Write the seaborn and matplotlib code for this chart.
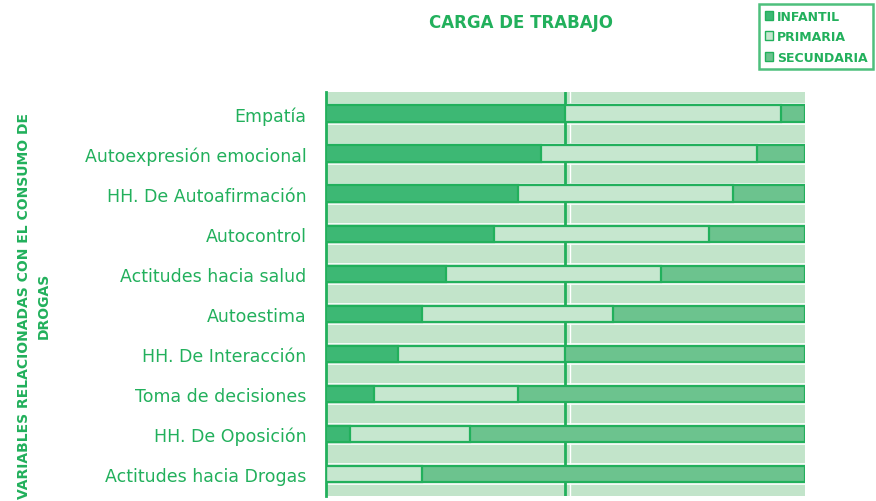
import pandas as pd
import matplotlib.pyplot as plt
import seaborn as sns
from matplotlib.patches import Patch

# Data (percent of each school level)
variables = ['Empatía', 'Autoexpresión emocional', 'HH. De Autoafirmación', 'Autocontrol',
             'Actitudes hacia salud', 'Autoestima', 'HH. De Interacción',
             'Toma de decisiones', 'HH. De Oposición', 'Actitudes hacia Drogas']
infantil = [50, 45, 40, 35, 25, 20, 15, 10, 5, 0]
primaria = [45, 45, 45, 45, 45, 40, 35, 30, 25, 20]
secundaria = [5, 10, 15, 20, 30, 40, 50, 60, 70, 80]

GREEN = '#22b05c'
C_INF = '#3db874'
C_PRI = '#c6e7cf'
C_SEC = '#6cc38e'
BG = '#c2e4ca'

df = pd.DataFrame({'var': variables, 'inf': infantil, 'pri': primaria, 'sec': secundaria})
df['cum_pri'] = df['inf'] + df['pri']
df['cum_sec'] = df['cum_pri'] + df['sec']

sns.set_style('white')
plt.rcParams['font.family'] = ['DejaVu Sans']

fig = plt.figure(figsize=(8.76, 5.02), dpi=100)
ax = fig.add_axes([0.372, 0.01, 0.547, 0.805])
ax.set_facecolor(BG)

w = 0.42
sns.barplot(data=df, y='var', x='cum_sec', orient='h', color=C_SEC, width=w, saturation=1,
            edgecolor=GREEN, linewidth=1.6, ax=ax, zorder=3)
sns.barplot(data=df, y='var', x='cum_pri', orient='h', color=C_PRI, width=w, saturation=1,
            edgecolor=GREEN, linewidth=1.6, ax=ax, zorder=4)
sns.barplot(data=df, y='var', x='inf', orient='h', color=C_INF, width=w, saturation=1,
            edgecolor=GREEN, linewidth=1.6, ax=ax, zorder=5)

# white band edges and mid gridline
for i in range(len(variables)):
    ax.axhline(i - 0.255, color='white', lw=1.2, zorder=1)
    ax.axhline(i + 0.255, color='white', lw=1.2, zorder=1)
ax.axvline(50.9, color='white', lw=1.0, zorder=1)
ax.axvline(50, color=GREEN, lw=2.0, zorder=2)

ax.set_xlim(0, 100)
ax.set_ylim(len(variables) - 0.45, -0.55)
ax.set_xticks([])
ax.set_yticks(range(len(variables)))
ax.set_yticklabels(variables, color=GREEN, fontsize=12.5, fontweight='medium')
ax.set_yticks([i + 0.5 for i in range(-1, len(variables))], minor=True)
ax.tick_params(axis='y', which='major', length=0, pad=14)
ax.tick_params(axis='y', which='minor', length=4, width=1.5, color=GREEN, direction='out')
ax.set_xlabel('')
ax.set_ylabel('')
for s in ['top', 'right', 'bottom']:
    ax.spines[s].set_visible(False)
ax.spines['left'].set_color(GREEN)
ax.spines['left'].set_linewidth(2)

fig.text(0.595, 0.955, 'CARGA DE TRABAJO', color=GREEN, fontsize=12,
         fontweight='bold', ha='center', va='center')
fig.text(0.039, 0.39, 'VARIABLES RELACIONADAS CON EL CONSUMO DE\nDROGAS', color=GREEN,
         fontsize=10, fontweight='bold', rotation=90, ha='center', va='center',
         multialignment='center', linespacing=1.55)

handles = [Patch(facecolor=C_INF, edgecolor=GREEN, label='INFANTIL'),
           Patch(facecolor=C_PRI, edgecolor=GREEN, label='PRIMARIA'),
           Patch(facecolor=C_SEC, edgecolor=GREEN, label='SECUNDARIA')]
leg = fig.legend(handles=handles, loc='upper right', bbox_to_anchor=(0.997, 0.99),
                 fontsize=9, frameon=True, fancybox=False, handlelength=0.7,
                 handleheight=0.7, handletextpad=0.3, labelspacing=0.6,
                 borderpad=0.45, borderaxespad=0)
leg.get_frame().set_edgecolor(GREEN)
leg.get_frame().set_linewidth(1.8)
for t in leg.get_texts():
    t.set_color(GREEN)
    t.set_fontweight('bold')

fig.savefig('out.png', dpi=100)
